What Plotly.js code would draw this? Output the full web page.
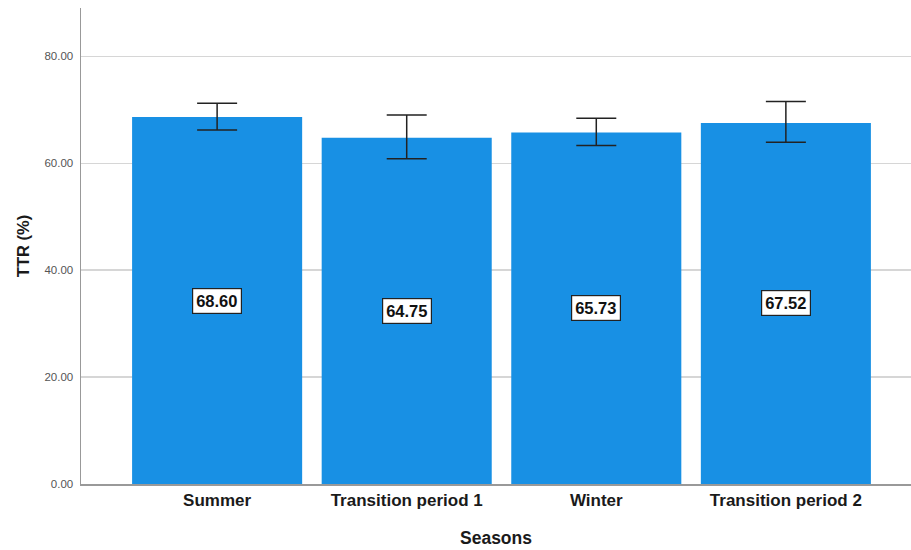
<!DOCTYPE html>
<html>
<head>
<meta charset="utf-8">
<script src="https://cdn.plot.ly/plotly-3.0.1.min.js"></script>
<style>html,body{margin:0;padding:0;background:#fff;}#chart{width:911px;height:550px;}</style>
</head>
<body>
<div id="chart"></div>
<script>
var seasons = ["Summer", "Transition period 1", "Winter", "Transition period 2"];
var ttrMean = [68.60, 64.75, 65.73, 67.52];
var ciUpper = [71.2, 69.0, 68.4, 71.5];
var ciLower = [66.2, 60.8, 63.3, 63.9];
var yTickVals = [0, 20, 40, 60, 80];
var yTickText = ["0.00", "20.00", "40.00", "60.00", "80.00"];

var plus = ciUpper.map(function(u, i){ return u - ttrMean[i]; });
var minus = ciLower.map(function(l, i){ return ttrMean[i] - l; });

var trace = {
  type: "bar",
  x: seasons,
  y: ttrMean,
  marker: {color: "#1890e4", line: {width: 0}},
  error_y: {type: "data", symmetric: false, array: plus, arrayminus: minus,
            color: "#222222", thickness: 1.5, width: 20},
  hoverinfo: "none"
};

var annotations = seasons.map(function(s, i){
  return {x: s, y: ttrMean[i] / 2, xref: "x", yref: "y",
          text: "<b>" + ttrMean[i].toFixed(2) + "</b>", showarrow: false,
          font: {family: "Liberation Sans, Arial, sans-serif", size: 16.5, color: "#111"},
          bgcolor: "#ffffff", bordercolor: "#222", borderwidth: 1.2, borderpad: 3};
});

var layout = {
  width: 911, height: 550,
  margin: {l: 81, r: 0, t: 8, b: 66},
  paper_bgcolor: "#fff", plot_bgcolor: "#fff",
  showlegend: false,
  bargap: 0.103,
  font: {family: "Liberation Sans, Arial, sans-serif"},
  xaxis: {
    type: "category",
    range: [-0.718, 3.66],
    showline: true, linecolor: "#999", linewidth: 2,
    showgrid: false, zeroline: false, ticks: "",
    tickfont: {size: 17, color: "#1a1a1a", family: "Liberation Sans, Arial, sans-serif", weight: "bold"},
    title: {text: "<b>Seasons</b>", font: {size: 17.5, color: "#1a1a1a"}, standoff: 22}
  },
  yaxis: {
    range: [0, 89],
    tickvals: yTickVals, ticktext: yTickText,
    showline: true, linecolor: "#999", linewidth: 1.5,
    showgrid: true, gridcolor: "#d6d6d6", gridwidth: 1.2,
    zeroline: false, ticks: "",
    ticklabelstandoff: 4,
    tickfont: {size: 11.5, color: "#555"},
    title: {text: "<b>TTR (%)</b>", font: {size: 16.5, color: "#1a1a1a"}, standoff: 10}
  },
  annotations: annotations
};

Plotly.newPlot("chart", [trace], layout, {displayModeBar: false, staticPlot: true});
</script>
</body>
</html>
